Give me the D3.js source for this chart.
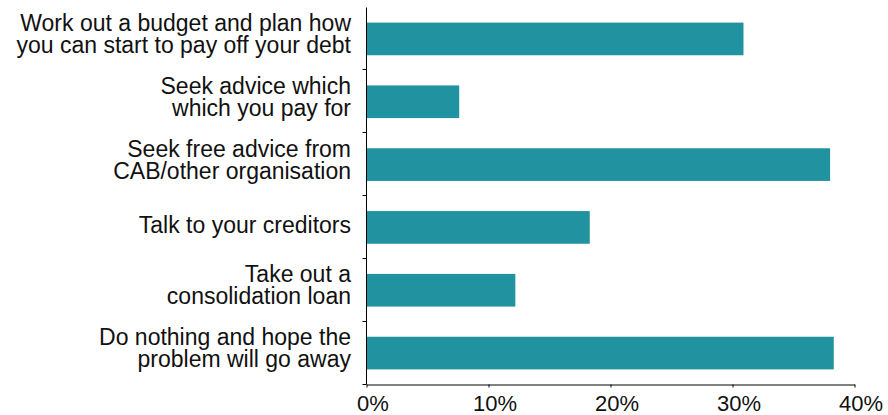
<!DOCTYPE html>
<html>
<head>
<meta charset="utf-8">
<script src="https://cdn.jsdelivr.net/npm/d3@7"></script>
<style>
  html, body { margin: 0; padding: 0; background: #fff; }
  svg { display: block; }
  text { font-family: "Liberation Sans", Arial, sans-serif; fill: #111; }
</style>
</head>
<body>
<svg id="chart" width="888" height="415"></svg>
<script>
const categories = [
  ["Work out a budget and plan how", "you can start to pay off your debt"],
  ["Seek advice which", "which you pay for"],
  ["Seek free advice from", "CAB/other organisation"],
  ["Talk to your creditors"],
  ["Take out a", "consolidation loan"],
  ["Do nothing and hope the", "problem will go away"]
];
const values = [30.9, 7.6, 38.0, 18.3, 12.2, 38.3];
const xTicks = [0, 10, 20, 30, 40];
const xTickLabels = ["0%", "10%", "20%", "30%", "40%"];

(function () {
const svg = d3.select("#chart");
const mLeft = 366.5, mRight = 854.5, mTop = 7.5, mBottom = 384.5;
const barColor = "#2192a0";

const keys = categories.map((d, i) => i);
const x = d3.scaleLinear().domain([0, 40]).range([mLeft, mRight]);
const y = d3.scaleBand().domain(keys).range([mTop, mBottom]).paddingInner(0.48).paddingOuter(0.24);
const yb = d3.scaleBand().domain(keys).range([mTop, mBottom]).padding(0);

// bars
svg.append("g").selectAll("rect").data(values).join("rect")
  .attr("x", x(0))
  .attr("y", (d, i) => y(i))
  .attr("width", d => x(d) - x(0))
  .attr("height", y.bandwidth())
  .attr("fill", barColor);

// y axis line
svg.append("line")
  .attr("x1", mLeft).attr("x2", mLeft)
  .attr("y1", mTop).attr("y2", mBottom)
  .attr("stroke", "#000").attr("stroke-width", 1);

// y ticks at band boundaries
svg.append("g").selectAll("line").data(keys).join("line")
  .attr("x1", mLeft - 4).attr("x2", mLeft)
  .attr("y1", i => Math.round(yb(i) + yb.step()) - 0.5)
  .attr("y2", i => Math.round(yb(i) + yb.step()) - 0.5)
  .attr("stroke", "#000").attr("stroke-width", 1);

// category labels
const lab = svg.append("g").selectAll("text").data(categories).join("text")
  .attr("text-anchor", "end")
  .attr("font-size", 23)
  .attr("transform", (d, i) => `translate(351, ${yb(i) + yb.step() / 2})`);
lab.each(function (lines) {
  const t = d3.select(this);
  const offs = lines.length === 1 ? [6] : [-8, 14];
  lines.forEach((ln, j) => {
    t.append("tspan").attr("x", 0).attr("y", offs[j]).text(ln);
  });
});

// x axis
const xAxis = d3.axisBottom(x).tickValues(xTicks)
  .tickFormat((d, i) => xTickLabels[i])
  .tickSize(3).tickSizeOuter(0);
const gx = svg.append("g").attr("transform", `translate(0, ${mBottom})`).call(xAxis);
gx.select(".domain").attr("stroke", "#000");
gx.selectAll(".tick line").attr("stroke", "#000");
gx.selectAll(".tick text")
  .attr("font-family", "'Liberation Sans', Arial, sans-serif")
  .attr("font-size", 22)
  .attr("fill", "#111")
  .attr("dx", 6)
  .attr("dy", 0)
  .attr("y", 26);
})();
</script>
</body>
</html>
